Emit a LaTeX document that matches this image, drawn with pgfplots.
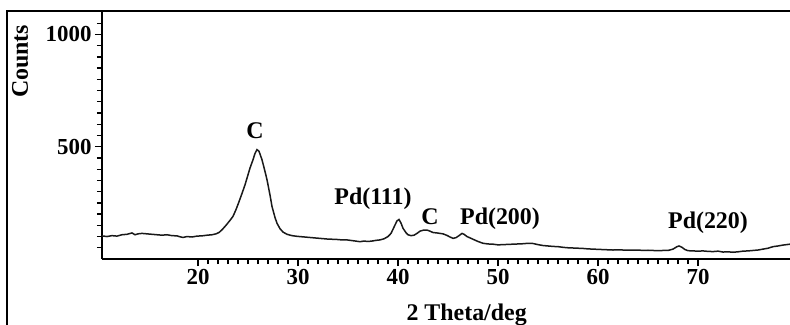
\documentclass[border=0pt]{standalone}
\usepackage{pgfplots}
\pgfplotsset{compat=1.18}
\usepackage{fontspec}
\setmainfont{Liberation Serif}
\newcommand{\lbl}{\fontsize{24}{27}\selectfont\bfseries}
\newcommand{\tlbl}{\fontsize{23}{26}\selectfont\bfseries}
\pgfplotstableread{
x y
10.4 103
10.9 100
11.4 104
11.9 102
12.4 108
12.9 110
13.4 116
13.7 108
14.0 112
14.4 114
14.9 112
15.4 110
15.9 108
16.4 106
16.9 108
17.4 104
17.9 103
18.2 99
18.5 96
18.9 100
19.4 98
19.9 102
20.4 103
20.9 106
21.4 108
21.8 112
22.1 118
22.4 130
22.8 150
23.2 172
23.5 190
23.8 220
24.1 255
24.4 292
24.7 330
25.0 375
25.2 405
25.5 442
25.7 470
25.9 487
26.1 480
26.4 442
26.7 390
26.9 353
27.2 285
27.4 234
27.7 185
27.9 159
28.2 135
28.5 120
28.9 110
29.4 104
29.9 101
30.4 99
30.9 97
31.4 95
31.9 93
32.4 91
32.9 89
33.4 88
33.9 87
34.4 85
34.9 85
35.4 82
35.9 79
36.2 77
36.6 80
37.0 78
37.4 80
37.8 83
38.2 85
38.6 90
39.0 100
39.3 114
39.6 142
39.9 170
40.1 176
40.3 160
40.5 137
40.8 117
41.0 108
41.3 104
41.6 106
41.9 114
42.2 124
42.5 128
42.9 129
43.2 124
43.5 118
43.9 116
44.2 114
44.5 112
44.9 105
45.2 98
45.5 92
45.8 95
46.1 104
46.4 114
46.6 110
46.9 100
47.2 94
47.6 86
48.0 78
48.5 70
49.0 67
49.5 66
50.0 63
50.5 64
51.0 65
51.5 66
52.0 67
52.5 68
53.0 70
53.5 69
54.0 64
54.5 60
55.0 58
55.5 56
56.0 55
56.5 52
57.0 50
57.5 49
58.0 48
58.5 47
59.0 45
59.5 44
60.0 43
60.5 42
61.0 41
61.5 40
62.0 41
62.5 40
63.0 40
63.5 39
64.0 40
64.5 38
65.0 39
65.5 38
66.0 37
66.5 38
67.0 38
67.5 44
67.9 55
68.1 58
68.4 52
68.7 42
69.0 37
69.5 36
70.0 35
70.5 36
71.0 34
71.5 33
72.0 35
72.5 31
73.0 32
73.5 30
74.0 32
74.5 35
75.0 36
75.5 38
76.0 40
76.5 44
77.0 48
77.5 55
78.0 58
78.5 62
79.2 66
}\xrd
\begin{document}
\begin{tikzpicture}
\begin{pgfinterruptboundingbox}
\begin{axis}[
  scale only axis, width=688bp, height=247bp,
  xmin=10.4, xmax=79.2, ymin=0, ymax=1100,
  axis lines=left,
  axis line style={-, line width=2bp},
  every outer x axis line/.append style={-},
  every outer y axis line/.append style={-},
  xtick={20,30,...,70}, minor x tick num=9,
  ytick={500,1000}, minor ytick={50,100,...,1050},
  tick align=outside,
  major tick length=7bp, minor tick length=5bp,
  tick style={line width=1.4bp, black},
  minor tick style={line width=1.3bp, black},
  /pgf/number format/assume math mode=true,
  /pgf/number format/1000 sep={},
  xticklabel style={font=\tlbl},
  yticklabel style={font=\tlbl},
  xlabel={2 Theta/deg}, ylabel={Counts},
  label style={font=\lbl},
  xlabel style={at={(axis description cs:0.53,-0.227)}, anchor=center},
  ylabel style={at={(axis description cs:-0.119,0.80)}, anchor=center},
  clip=false,
]
\coordinate (O) at (rel axis cs:0,0);
\addplot[black!90, line width=1.5bp] table[x=x,y=y] {\xrd};
\node[font=\lbl] at (axis cs:25.7,571) {C};
\node[font=\lbl] at (axis cs:37.5,268) {Pd(111)};
\node[font=\lbl] at (axis cs:43.2,190) {C};
\node[font=\lbl] at (axis cs:50.2,179) {Pd(200)};
\node[font=\lbl] at (axis cs:71.0,161) {Pd(220)};
\end{axis}
\end{pgfinterruptboundingbox}
\useasboundingbox ([shift={(-102bp,-66bp)}]O) rectangle ([shift={(688bp,259bp)}]O);
\draw[line width=2bp] ([shift={(-95bp,-80bp)}]O) -- ([shift={(-95bp,248bp)}]O) -- ([shift={(700bp,248bp)}]O);
\end{tikzpicture}
\end{document}
